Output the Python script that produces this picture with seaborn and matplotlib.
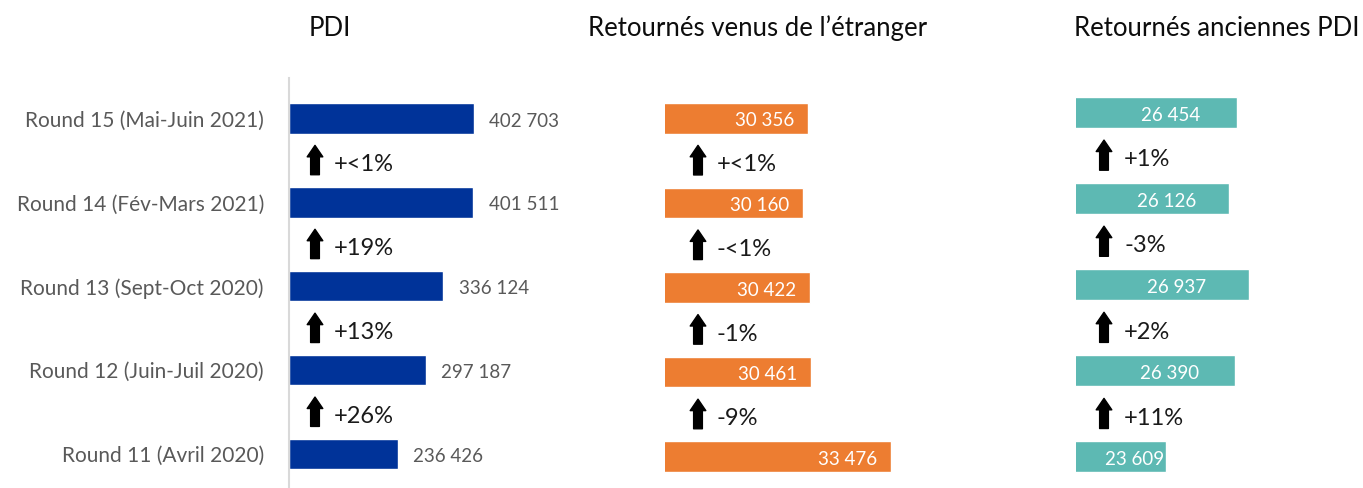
import matplotlib
matplotlib.use("Agg")
import matplotlib.pyplot as plt
import matplotlib.transforms as mtransforms
import seaborn as sns

rounds = [
    "Round 15 (Mai-Juin 2021)",
    "Round 14 (Fév-Mars 2021)",
    "Round 13 (Sept-Oct 2020)",
    "Round 12 (Juin-Juil 2020)",
    "Round 11 (Avril 2020)",
]
pdi = [402703, 401511, 336124, 297187, 236426]
etranger = [30356, 30160, 30422, 30461, 33476]
anciennes = [26454, 26126, 26937, 26390, 23609]

pdi_var = ["+<1%", "+19%", "+13%", "+26%"]
etranger_var = ["+<1%", "-<1%", "-1%", "-9%"]
anciennes_var = ["+1%", "-3%", "+2%", "+11%"]

titles = ["PDI", "Retournés venus de l’étranger", "Retournés anciennes PDI"]

sns.set_theme(style="white")
plt.rcParams["font.family"] = ["Lato", "DejaVu Sans"]

W, H = 1363, 488
fig = plt.figure(figsize=(W / 100, H / 100), dpi=100)


def fmt(v):
    return f"{v:,}".replace(",", " ")


def add_panel(x0, w, top_px, values, color, xlim, ylim, variations,
              arrow_dx, text_dx):
    ax = fig.add_axes([x0 / W, 0, w / W, (H - top_px) / H])
    sns.barplot(x=values, y=rounds, orient="h", color=color, width=0.36,
                saturation=1, ax=ax)
    ax.set_xlim(*xlim)
    ax.set_ylim(*ylim)
    ax.set_xticks([])
    ax.set_xlabel("")
    ax.set_ylabel("")
    for s in ["top", "right", "bottom", "left"]:
        ax.spines[s].set_visible(False)
    ax.tick_params(axis="y", length=0)
    trans = mtransforms.blended_transform_factory(ax.transAxes, ax.transData)
    for i, txt in enumerate(variations):
        yc = i + 0.5
        ax.annotate("", xy=(arrow_dx / w, yc - 0.18), xytext=(arrow_dx / w, yc + 0.17),
                    xycoords=trans, textcoords=trans,
                    arrowprops=dict(arrowstyle="simple,head_length=0.55,head_width=0.75,tail_width=0.42",
                                    color="black", shrinkA=0, shrinkB=0, mutation_scale=15))
        ax.text(text_dx / w, yc + 0.05, txt, transform=trans, ha="left", va="center",
                fontsize=17, color="#1a1a1a")
    return ax


ax1 = add_panel(289, 300, 78, pdi, "#003399", (0, 653000), (4.404, -0.483),
                pdi_var, 26, 45)
ax1.spines["left"].set_visible(True)
ax1.spines["left"].set_color("#d9d9d9")
ax1.spines["left"].set_linewidth(1.5)
ax1.tick_params(axis="y", pad=18)
for lab in ax1.get_yticklabels():
    lab.set_fontsize(15)
    lab.set_color("#595959")
for i, v in enumerate(pdi):
    ax1.annotate(fmt(v), xy=(v, i + 0.03), xytext=(11, 0), textcoords="offset points",
                 ha="left", va="center", fontsize=13.5, color="#595959")

ax2 = add_panel(665, 300, 78, etranger, "#ed7d31", (25000, 36236), (4.370, -0.476),
                etranger_var, 33, 52)
ax2.set_yticklabels([])
for i, v in enumerate(etranger):
    ax2.annotate(fmt(v), xy=(v, i + 0.03), xytext=(-10, 0), textcoords="offset points",
                 ha="right", va="center", fontsize=13.5, color="white")

ax3 = add_panel(1076, 280, 78, anciennes, "#5db9b3", (20000, 31245), (4.361, -0.401),
                anciennes_var, 28, 48)
ax3.set_yticklabels([])
for i, v in enumerate(anciennes):
    ax3.annotate(fmt(v), xy=((20000 + v) / 2, i + 0.03), xytext=(10, 0),
                 textcoords="offset points", ha="center", va="center",
                 fontsize=13.5, color="white")

for cx, t in zip([330, 758, 1217], titles):
    fig.text(cx / W, 1 - 36 / H, t, ha="center", va="baseline", fontsize=18.5,
             color="#0d0d0d")

fig.savefig("out.png", dpi=100)
